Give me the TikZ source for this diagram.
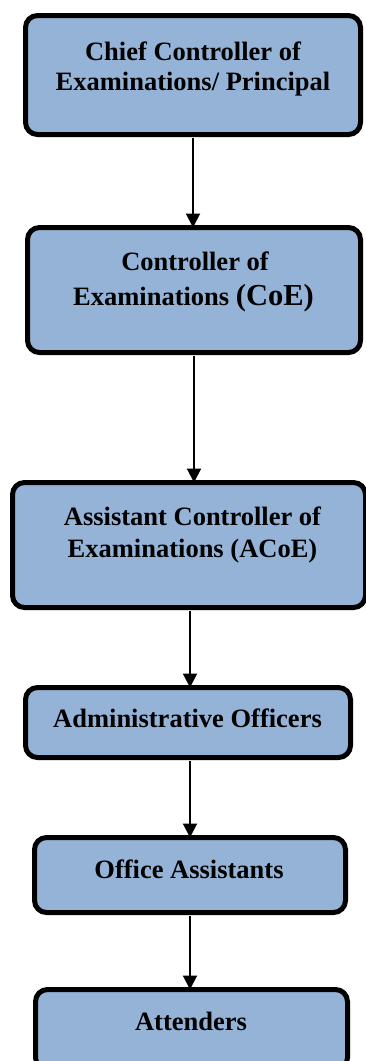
\documentclass[tikz,border=0pt]{standalone}
\usepackage{fontspec}
\setmainfont{Liberation Serif}
\usetikzlibrary{arrows.meta}
\definecolor{boxfill}{HTML}{95B3D7}
\tikzset{
  orgbox/.style={draw=black, line width=5pt, fill=boxfill, rounded corners=12pt, inner sep=0pt, outer sep=0pt},
  boxtext/.style={anchor=base, inner sep=0pt, font=\fontsize{26.5}{30}\selectfont\bfseries},
  conn/.style={line width=2pt, -{Triangle[length=14pt,width=14pt]}, shorten <=3pt},
}
\newcommand{\mkbox}[5]{% name, x1, y1, x2, y2 (centerline)
  \path[orgbox] (#2,#3) rectangle (#4,#5);
  \coordinate (#1-n) at ({(#2+#4)/2},{#3-2.5});
  \coordinate (#1-s) at ({(#2+#4)/2},{#5+2.5});
}
\begin{document}
\begin{tikzpicture}[x=1pt,y=-1pt]
\useasboundingbox (0,0) rectangle (366,1061);
\clip (0,0) rectangle (366,1061);
% boxes
\node[orgbox, minimum width=335pt, minimum height=119pt] (b1) at (193,75) {};
\node[orgbox, minimum width=333pt, minimum height=125pt] (b2) at (194,290) {};
\node[orgbox, minimum width=353pt, minimum height=125pt] (b3) at (189,545) {};
\node[orgbox, minimum width=325pt, minimum height=70pt] (b4) at (188,722.5) {};
\node[orgbox, minimum width=311pt, minimum height=75pt] (b5) at (190,875) {};
\node[orgbox, minimum width=312pt, minimum height=80pt] (b6) at (191.5,1029.5) {};
% texts
\node[boxtext] (t1a) at (193,60) {Chief Controller of};
\node[boxtext] (t1b) at (193,90) {Examinations/ Principal};
\node[boxtext] (t2a) at (195,270) {Controller of};
\node[boxtext] (t2b) at (193.5,305) {Examinations {\fontsize{30.5}{34}\selectfont(CoE)}};
\node[boxtext] (t3a) at (192.5,525) {Assistant Controller of};
\node[boxtext] (t3b) at (192.5,557) {Examinations (ACoE)};
\node[boxtext] (t4) at (187.5,727) {Administrative Officers};
\node[boxtext] (t5) at (189,878) {Office Assistants};
\node[boxtext] (t6) at (191,1030) {Attenders};
% connectors
\draw[conn] (b1.south) -- (b1.south |- b2.north);
\draw[conn] (b2.south) -- (b2.south |- b3.north);
\draw[conn] ([xshift=1pt]b3.south) -- ([xshift=1pt]b3.south |- b4.north);
\draw[conn] ([xshift=2pt]b4.south) -- ([xshift=2pt]b4.south |- b5.north);
\draw[conn] (b5.south) -- (b5.south |- b6.north);
\end{tikzpicture}
\end{document}
